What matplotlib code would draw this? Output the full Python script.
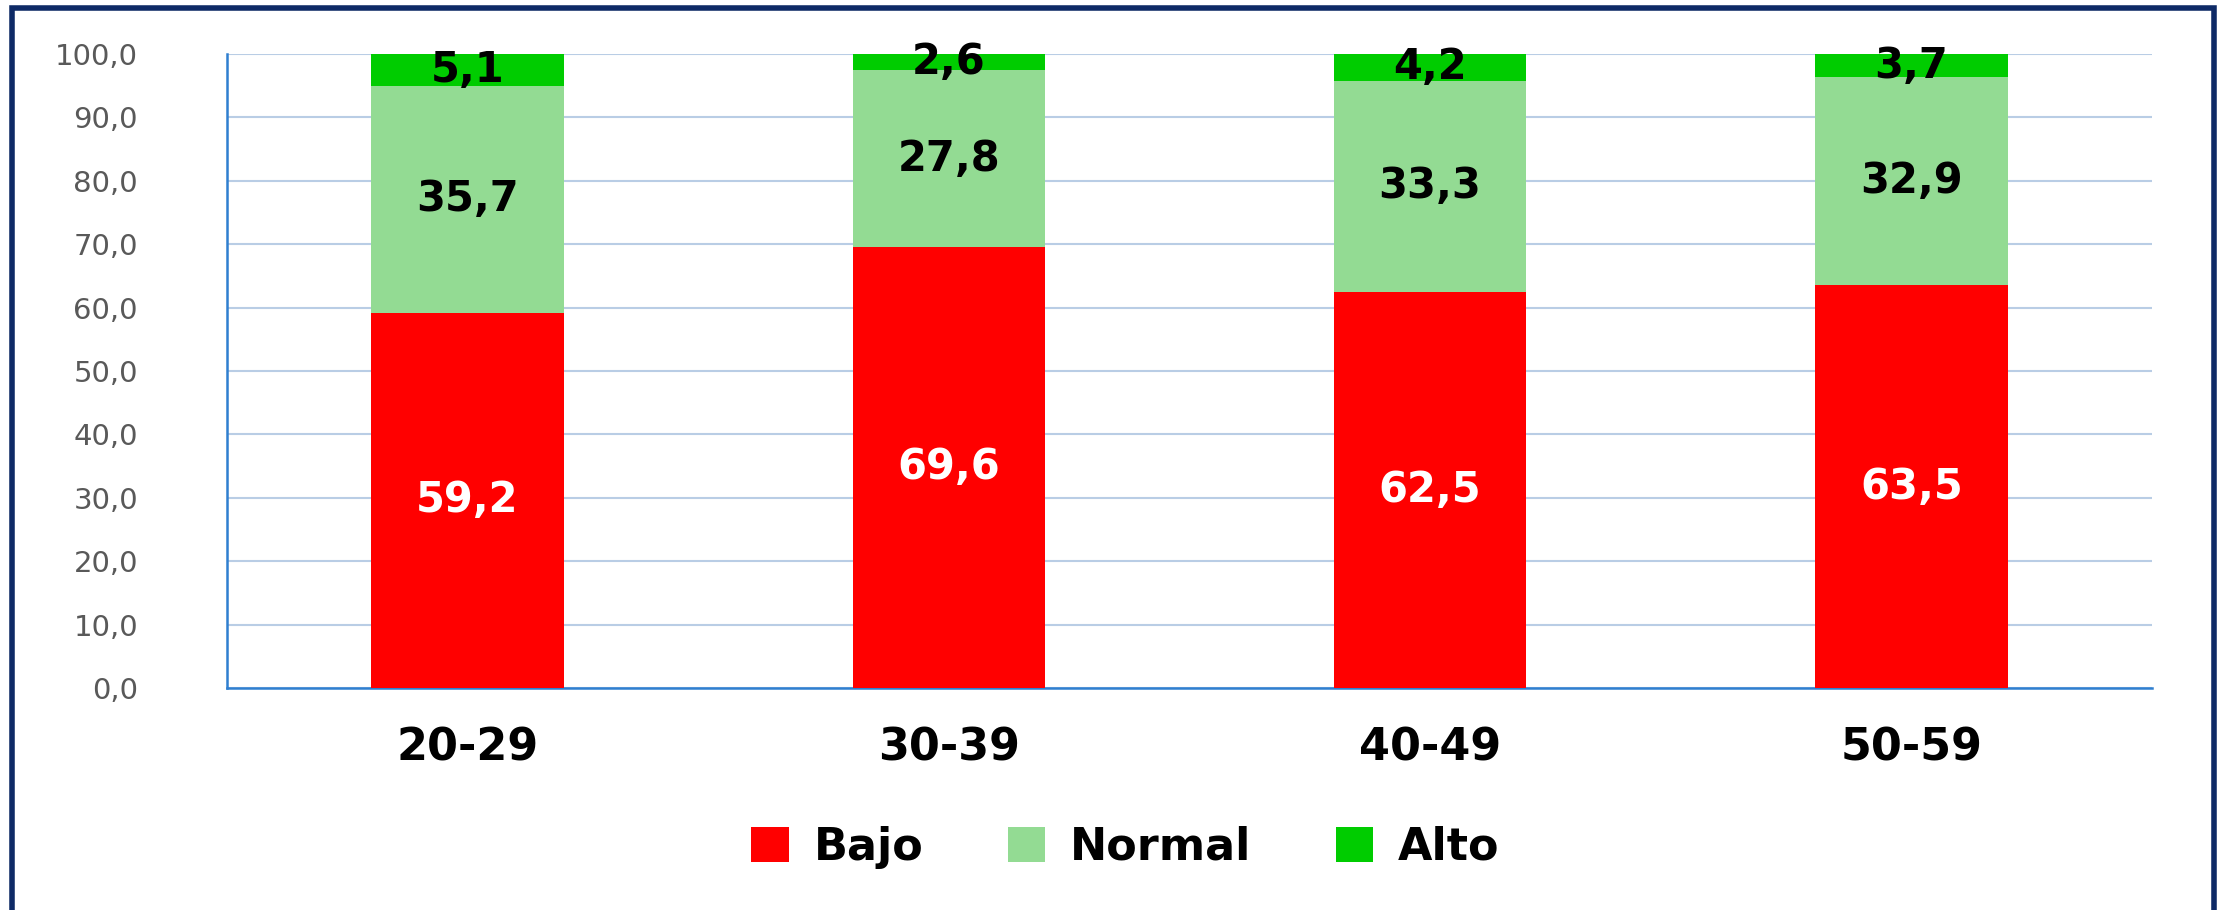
import matplotlib
matplotlib.use("Agg")
import matplotlib.pyplot as plt
import numpy as np
from matplotlib.patches import Rectangle

plt.rcParams['font.family'] = ['DejaVu Sans']

grupos = ["20-29", "30-39", "40-49", "50-59"]
bajo = [59.2, 69.6, 62.5, 63.5]
normal = [35.7, 27.8, 33.3, 32.9]
alto = [5.1, 2.6, 4.2, 3.7]
series = ["Bajo", "Normal", "Alto"]
yticks = [0, 10, 20, 30, 40, 50, 60, 70, 80, 90, 100]

colores = {"Bajo": "#ff0000", "Normal": "#93db93", "Alto": "#00cc00"}
txt_col = {"Bajo": "white", "Normal": "black", "Alto": "black"}

fig = plt.figure(figsize=(22.24, 9.10), dpi=100)
ax = fig.add_axes([0.102, 0.244, 0.8656, 0.6967])

x = np.arange(len(grupos))
base = np.zeros(len(grupos))
for nombre, vals in zip(series, [bajo, normal, alto]):
    vals = np.array(vals)
    bars = ax.bar(x, vals, 0.4, bottom=base, color=colores[nombre], label=nombre, zorder=3)
    for b, v, b0 in zip(bars, vals, base):
        yc = b0 + v / 2
        if nombre == "Alto":
            yc = min(yc, 100 - v / 2)
        ax.text(b.get_x() + b.get_width() / 2, yc, f"{v:.1f}".replace(".", ","),
                ha="center", va="center", fontsize=30, fontweight="bold",
                color=txt_col[nombre], zorder=4)
    base = base + vals

ax.set_xlim(-0.5, len(grupos) - 0.5)
ax.set_ylim(0, 100)
ax.set_yticks(yticks)
ax.set_yticklabels([f"{t:.1f}".replace(".", ",") for t in yticks], fontsize=21, color="#595959")
ax.set_xticks(x)
ax.set_xticklabels(grupos, fontsize=32, fontweight="bold")
ax.tick_params(axis="both", length=0)
ax.tick_params(axis="y", pad=64)
ax.tick_params(axis="x", pad=28)
ax.yaxis.grid(True, color="#b9cde5", linewidth=1.5, zorder=0)
for s in ["top", "right"]:
    ax.spines[s].set_visible(False)
ax.spines["left"].set_color("#2f7fd0")
ax.spines["bottom"].set_color("#2f7fd0")
ax.spines["left"].set_linewidth(1.8)
ax.spines["bottom"].set_linewidth(1.8)

leg = fig.legend(*ax.get_legend_handles_labels(), loc="center",
                 bbox_to_anchor=(0.506, 0.069), ncol=3, frameon=False,
                 prop={"size": 32, "weight": "bold"}, handlelength=0.85, handleheight=0.85,
                 handletextpad=0.55, columnspacing=1.9)

# marco exterior
fig.patches.append(Rectangle((12 / 2224, -0.05), 2202 / 2224, 1.05 - 8 / 910,
                             transform=fig.transFigure, fill=False,
                             edgecolor="#0e2a66", linewidth=4))

fig.savefig("out.png", dpi=100)
